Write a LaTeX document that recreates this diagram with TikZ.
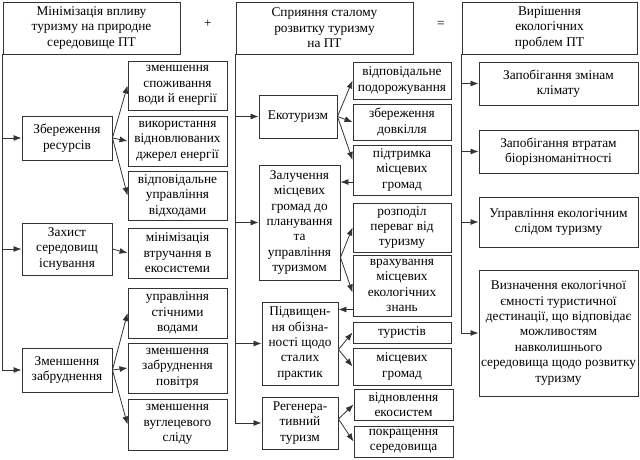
\documentclass[tikz,border=0pt]{standalone}
\usepackage{fontspec}
\setmainfont{Liberation Serif}
\usetikzlibrary{arrows.meta}

\newdimen\px \px=0.75pt

\begin{document}
\begin{tikzpicture}[
  x=0.75pt, y=-0.75pt,
  font=\fontsize{10}{11.6}\selectfont,
  box/.style={draw=black!80, line width=0.7pt, align=center, inner sep=1pt},
  head/.style={box, minimum height=52\px},
  sign/.style={font=\fontsize{10}{11.6}\selectfont},
  arrow/.style={-{Latex[length=6pt,width=4.5pt]}, line width=0.6pt, draw=black!80}
]
\useasboundingbox (0,0) rectangle (640,460);

\node[head, minimum width=177\px] (top1) at (91.5,28)
  {Мінімізація впливу\\туризму на природне\\середовище ПТ};
\node[sign] (plus) at (208,24) {+};
\node[head, minimum width=177\px] (top2) at (324.5,28)
  {Сприяння сталому\\розвитку туризму\\на ПТ};
\node[sign] (eq) at (441,24) {=};
\node[head, minimum width=175\px] (top3) at (549.5,28)
  {Вирішення\\екологічних\\проблем ПТ};

\node[box, minimum width=90\px, minimum height=44\px] (zb) at (67,138)
  {Збереження\\ресурсів};
\node[box, minimum width=90\px, minimum height=52\px] (zx) at (67,249)
  {Захист\\середовищ\\існування};
\node[box, minimum width=90\px, minimum height=44\px] (zz) at (67,370)
  {Зменшення\\забруднення};

\node[box, minimum width=99\px, minimum height=49\px] (l1) at (177.5,85.5)
  {зменшення\\споживання\\води й енергії};
\node[box, minimum width=99\px, minimum height=50\px] (l2) at (177.5,141)
  {використання\\відновлюваних\\джерел енергії};
\node[box, minimum width=99\px, minimum height=49\px] (l3) at (177.5,195.5)
  {відповідальне\\управління\\відходами};
\node[box, minimum width=99\px, minimum height=50\px] (l4) at (177.5,253)
  {мінімізація\\втручання в\\екосистеми};
\node[box, minimum width=99\px, minimum height=50\px] (l5) at (177.5,313)
  {управління\\стічними\\водами};
\node[box, minimum width=99\px, minimum height=50\px] (l6) at (177.5,368)
  {зменшення\\забруднення\\повітря};
\node[box, minimum width=99\px, minimum height=51\px] (l7) at (177.5,424.5)
  {зменшення\\вуглецевого\\сліду};

\node[box, minimum width=78\px, minimum height=43\px] (ek) at (298,116.5)
  {Екотуризм};
\node[box, minimum width=81\px, minimum height=115\px] (zl) at (299.5,222.5)
  {Залучення\\місцевих\\громад до\\планування\\та\\управління\\туризмом};
\node[box, minimum width=76\px, minimum height=83\px] (pd) at (300,343.5)
  {Підвищен-\\ня обізна-\\ності щодо\\сталих\\практик};
\node[box, minimum width=76\px, minimum height=52\px] (rg) at (300,423)
  {Регенера-\\тивний\\туризм};

\node[box, minimum width=98\px, minimum height=37\px] (m1) at (402,80.5)
  {відповідальне\\подорожування};
\node[box, minimum width=98\px, minimum height=36\px] (m2) at (402,122)
  {збереження\\довкілля};
\node[box, minimum width=98\px, minimum height=50\px] (m3) at (402,170)
  {підтримка\\місцевих\\громад};
\node[box, minimum width=98\px, minimum height=49\px] (m4) at (402,227.5)
  {розподіл\\переваг від\\туризму};
\node[box, minimum width=98\px, minimum height=61\px] (m5) at (402,285.5)
  {врахування\\місцевих\\екологічних\\знань};
\node[box, minimum width=98\px, minimum height=21\px] (m6) at (402,332.5)
  {туристів};
\node[box, minimum width=98\px, minimum height=37\px] (m7) at (402,366.5)
  {місцевих\\громад};
\node[box, minimum width=99\px, minimum height=31\px] (m8) at (403.5,404.5)
  {відновлення\\екосистем};
\node[box, minimum width=99\px, minimum height=31\px] (m9) at (403.5,441.5)
  {покращення\\середовища};

\node[box, minimum width=159\px, minimum height=43\px] (r1) at (558.5,83.5)
  {Запобігання змінам\\клімату};
\node[box, minimum width=159\px, minimum height=43\px] (r2) at (558.5,151.5)
  {Запобігання втратам\\біорізноманітності};
\node[box, minimum width=159\px, minimum height=50\px] (r3) at (558.5,222)
  {Управління екологічним\\слідом туризму};
\node[box, minimum width=159\px, minimum height=126\px] (r4) at (558.5,333)
  {Визначення екологічної\\ємності туристичної\\дестинації, що відповідає\\можливостям\\навколишнього\\середовища щодо розвитку\\туризму};

\foreach \g in {zb,zx,zz}
  \draw[arrow] (top1.south west) |- (\g.west);
\foreach \g in {ek,zl,pd,rg}
  \draw[arrow] (top2.south west) |- (\g.west);
\foreach \g in {r1,r2,r3,r4}
  \draw[arrow] (top3.south west) |- (\g.west);

\foreach \i in {l1,l2,l3}
  \draw[arrow] (zb.east) -- (\i.west);
\draw[arrow] (zx.east) -- (l4.west);
\foreach \i in {l5,l6,l7}
  \draw[arrow] (zz.east) -- (\i.west);

\draw[arrow] (ek.east) -- (m1.west);
\draw[arrow] (ek.east) -- (m2.west);
\draw[arrow] (ek.east) -- ([yshift=10\px]m3.west);
\coordinate (m3w) at ([yshift=-12\px]m3.west);
\draw[arrow] (m3w) -- (m3w -| zl.east);

\coordinate (zlo) at ([yshift=-35\px]zl.east);
\draw[arrow] (zlo) -- (m4.west);
\draw[arrow] (zlo) -- ([yshift=-7\px]m5.west);
\coordinate (m5w) at ([yshift=-24\px]m5.west);
\draw[arrow] (m5w) -- (m5w -| pd.east);

\foreach \i in {m6,m7}
  \draw[arrow] ([yshift=-6\px]pd.east) -- (\i.west);
\foreach \i in {m8,m9}
  \draw[arrow] ([yshift=4\px]rg.east) -- (\i.west);

\end{tikzpicture}
\end{document}
